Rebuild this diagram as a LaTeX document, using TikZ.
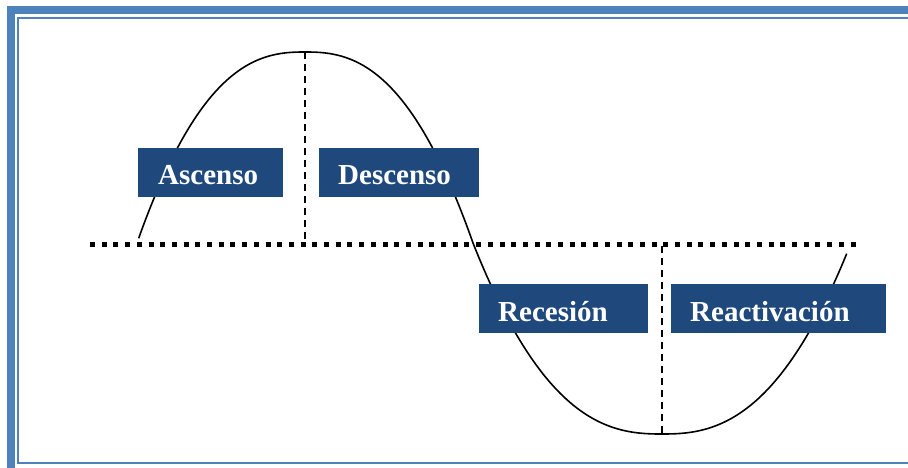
\documentclass[tikz,border=0pt]{standalone}
\usepackage{fontspec}
\setmainfont{Liberation Serif}
\definecolor{frameblue}{HTML}{4F81BD}
\definecolor{boxblue}{HTML}{1F497D}
\begin{document}
\begin{tikzpicture}[x=1pt,y=-1pt,
  phasebox/.style={fill=boxblue, draw=none, minimum width=#1, minimum height=49pt, inner sep=0pt},
  lbl/.style={text=white, font=\fontsize{29}{30}\selectfont\bfseries, inner sep=0pt, anchor=base west},
  wave/.style={line width=1.6pt, black},
  midline/.style={line width=5pt, dash pattern=on 5pt off 6.7pt},
  divider/.style={line width=2pt, dash pattern=on 7pt off 5pt}]
\useasboundingbox (0,0) rectangle (908,468);
\clip (0,0) rectangle (908,468);
% frame
\draw[frameblue, line width=8pt] (11,10) rectangle (920,476);
\draw[frameblue, line width=2.5pt] (18,18) rectangle (916,463);
% wave
\draw[wave] plot[domain=-0.99:1, samples=120, smooth] ({305+168*\x},{243-191*(1-abs(\x)*abs(\x)*sqrt(abs(\x)))})
  -- plot[domain=-1:0.979, samples=120, smooth] ({662+189*\x},{243+191*(1-abs(\x)*abs(\x)*sqrt(abs(\x)))});
% coordinates
\coordinate (mL) at (90,244.5);
\coordinate (mR) at (860,244.5);
\coordinate (peak) at (305,52);
\coordinate (peakB) at (305,241);
\coordinate (troughT) at (662,246);
\coordinate (trough) at (662,434);
% lines
\draw[midline] (mL) -- (mR);
\draw[divider] (peak) -- (peakB);
\draw[divider] (troughT) -- (trough);
% boxes
\node[phasebox=145pt] (bA) at (210.5,172.5) {};
\node[phasebox=160pt] (bD) at (399,172.5) {};
\node[phasebox=169pt] (bR) at (563.5,308.5) {};
\node[phasebox=215pt] (bC) at (778.5,308.5) {};
\node[lbl] (tA) at (158,185) {Ascenso};
\node[lbl] (tD) at (338,185) {Descenso};
\node[lbl] (tR) at (498,321) {Recesión};
\node[lbl] (tC) at (690,321) {Reactivación};
\end{tikzpicture}
\end{document}
